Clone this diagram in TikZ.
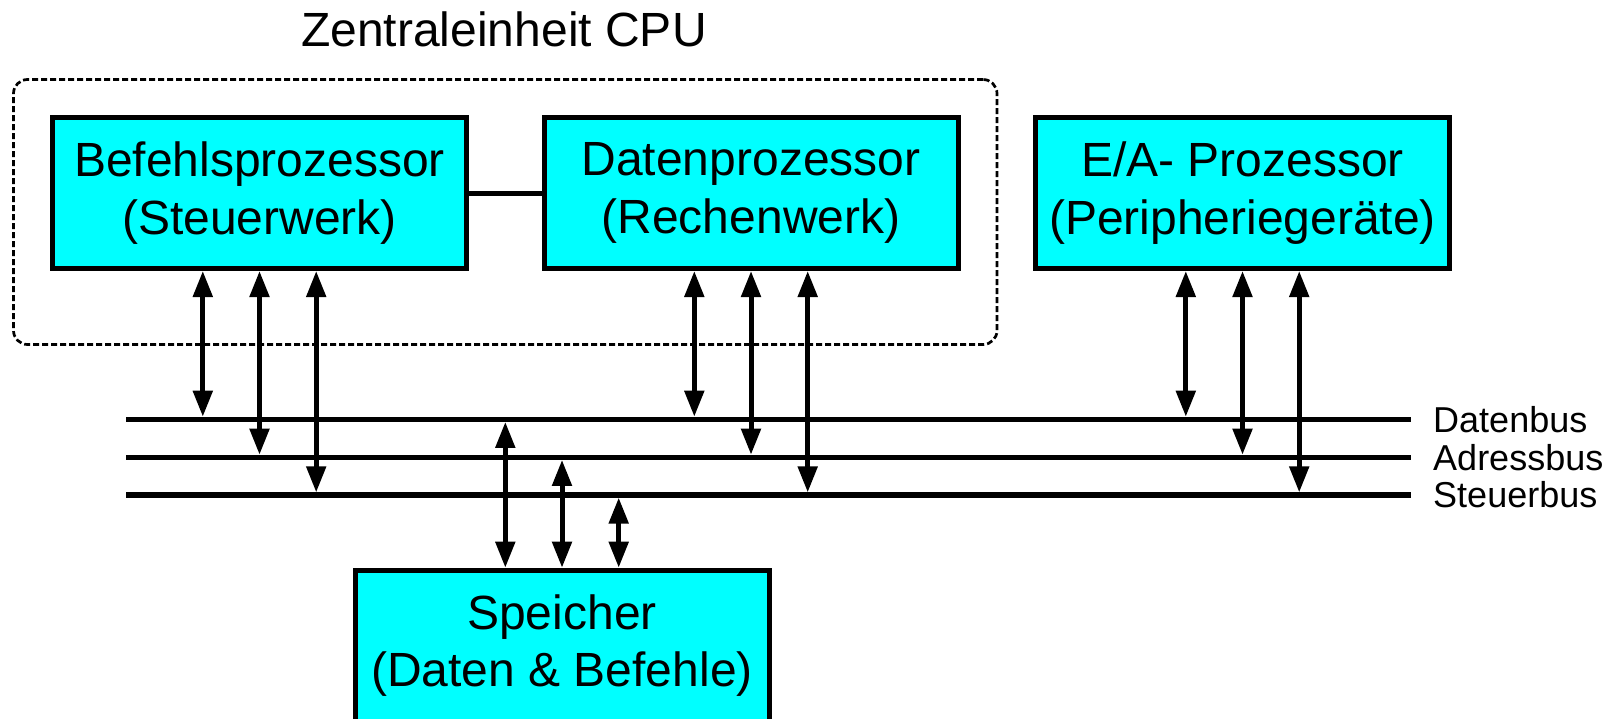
\documentclass[tikz,border=0pt]{standalone}
\usepackage{fontspec}
\setmainfont{Liberation Sans}
\usetikzlibrary{arrows.meta}
\definecolor{unitfill}{HTML}{00FFFF}
\begin{document}
\begin{tikzpicture}[x=1pt,y=-1pt,
  unit/.style={draw=black, line width=5pt, fill=unitfill, minimum width=414pt,
    minimum height=151pt, inner sep=0pt, align=center,
    font=\fontsize{48}{57.6}\selectfont},
  cpuframe/.style={draw=black, line width=2.7pt, dash pattern=on 6pt off 3pt,
    rounded corners=14pt, minimum width=983.5pt, minimum height=265pt, inner sep=0pt},
  bus/.style={line width=5.3pt},
  link/.style={line width=5pt,
    {Triangle[length=26pt,width=19pt]}-{Triangle[length=26pt,width=19pt]}},
  buslabel/.style={anchor=west, inner sep=0pt, font=\fontsize{36}{43}\selectfont},
  title/.style={anchor=base, inner sep=0pt, font=\fontsize{48}{57.6}\selectfont}
]
\useasboundingbox (0,0) rectangle (1621,718);
\clip (0,0) rectangle (1621,718);

% CPU frame and its caption
\node[cpuframe] (cpu) at (505.25,212) {};
\node[title] (cputitle) at (504,46) {Zentraleinheit CPU};

% processing units
\node[unit] (befehl) at (259.5,193) {Befehlsprozessor\\(Steuerwerk)};
\node[unit] (daten)  at (751,193)   {Datenprozessor\\(Rechenwerk)};
\node[unit] (ea)     at (1242.5,193) {E/A- Prozessor\\(Peripherieger\"ate)};
\node[unit] (speicher) at (562,645.7) {Speicher\\(Daten \& Befehle)};

\draw[line width=5pt] (befehl.east) -- (daten.west);

% system bus
\coordinate (db-w) at (126,419.3);  \coordinate (db-e) at (1411,419.3);
\coordinate (ab-w) at (126,457.3);  \coordinate (ab-e) at (1411,457.3);
\coordinate (sb-w) at (126,495);    \coordinate (sb-e) at (1411,495);
\draw[bus] (db-w) -- (db-e);
\draw[bus] (ab-w) -- (ab-e);
\draw[bus] (sb-w) -- (sb-e);
\node[buslabel] (dblabel) at (1433,419.3) {Datenbus};
\node[buslabel] (ablabel) at (1433,457.3) {Adressbus};
\node[buslabel] (sblabel) at (1433,495) {Steuerbus};

% unit <-> bus connections
\foreach \u in {befehl,daten,ea}{
  \draw[link, shorten >=2.6pt] ([xshift=-56.7pt]\u.south) -- ([xshift=-56.7pt]\u.south |- db-w);
  \draw[link, shorten >=2.6pt] (\u.south) -- (\u.south |- ab-w);
  \draw[link, shorten >=2.6pt] ([xshift=56.7pt]\u.south) -- ([xshift=56.7pt]\u.south |- sb-w);
}
\draw[link, shorten <=2.6pt] ([xshift=-56.7pt]speicher.north |- db-w) -- ([xshift=-56.7pt]speicher.north);
\draw[link, shorten <=2.6pt] (speicher.north |- ab-w) -- (speicher.north);
\draw[link, shorten <=2.6pt] ([xshift=56.7pt]speicher.north |- sb-w) -- ([xshift=56.7pt]speicher.north);
\end{tikzpicture}
\end{document}
